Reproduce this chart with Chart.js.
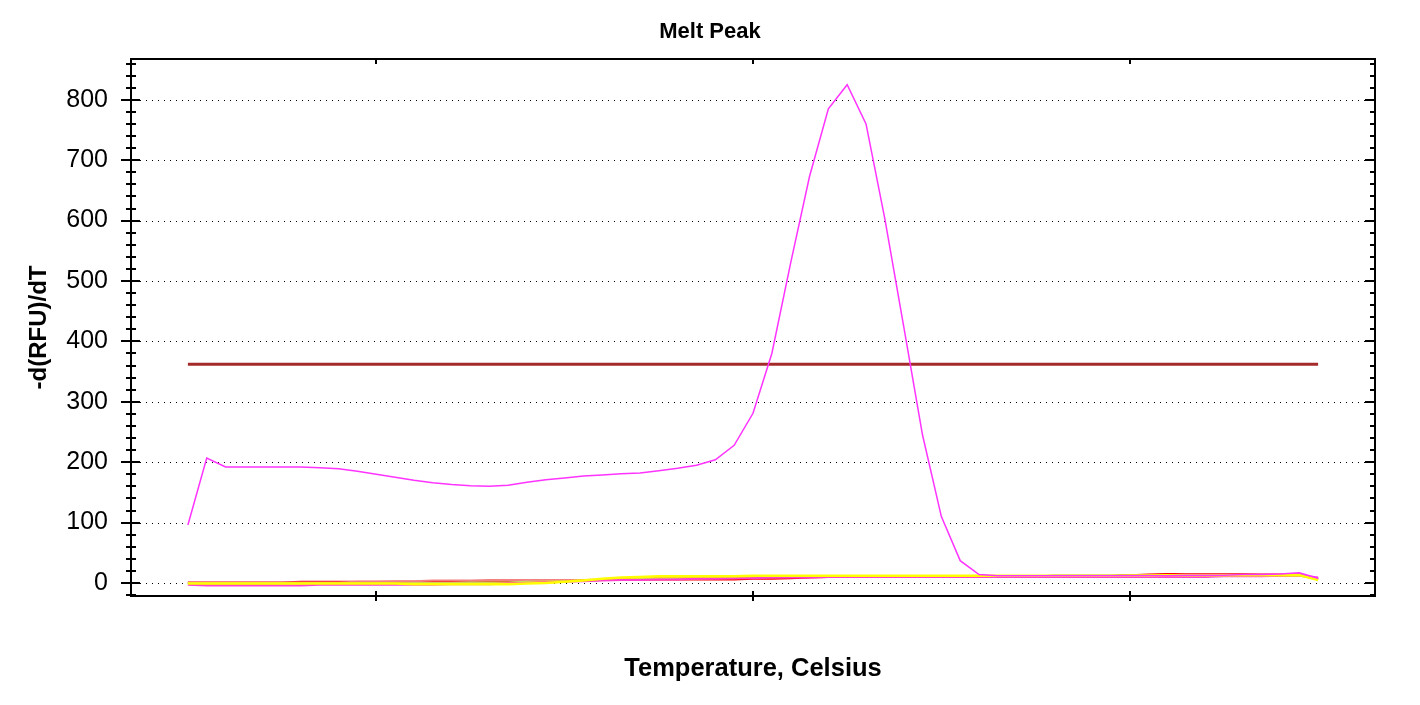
<!DOCTYPE html>
<html><head><meta charset="utf-8">
<script src="https://cdn.jsdelivr.net/npm/chart.js@4.4.1/dist/chart.umd.min.js"></script>
<style>html,body{margin:0;padding:0;background:#fff;}canvas{display:block;}</style>
</head><body>
<canvas id="c" width="1420" height="705"></canvas>
<script>
const temps = [65,65.5,66,66.5,67,67.5,68,68.5,69,69.5,70,70.5,71,71.5,72,72.5,73,73.5,74,74.5,75,75.5,76,76.5,77,77.5,78,78.5,79,79.5,80,80.5,81,81.5,82,82.5,83,83.5,84,84.5,85,85.5,86,86.5,87,87.5,88,88.5,89,89.5,90,90.5,91,91.5,92,92.5,93,93.5,94,94.5,95];
const peakSample = [96,207,192,192,192,192,192,191,189,185,180,175,170,166,163,161,160,162,167,171,174,177,179,181,182,186,190,195,204,228,281,380,530,673,785,825,760,603,425,245,110,37,14,12,12,12,12,12,12,12,12,12,12,13,13,13,14,14,15,17,8];
const redSample = [1,1,1,1,1,1,2,2,2,2,2,2,2,3,3,3,3,3,4,4,4,5,5,6,6,6,6,6,6,6,7,7,8,9,10,10,10,10,10,10,10,10,10,10,10,10,11,11,11,11,13,14,15,15,15,15,15,14,14,14,6];
const yellowSample = [-1,-1,-1,-1,-1,-1,-1,-1,-1,-1,-1,-1,-2,-2,-2,-2,-2,-2,-1,0,2,4,7,9,10,11,11,11,11,11,12,12,12,12,12,12,12,12,12,12,12,12,12,12,12,12,12,12,12,12,12,12,13,13,13,13,13,13,13,13,5];
const salmonSample = [0,0,0,0,0,1,1,1,1,2,2,3,3,4,4,4,5,5,5,5,5,5,5,5,6,6,7,7,8,8,9,9,10,10,10,11,11,11,11,11,11,11,11,11,11,11,12,12,12,12,13,13,13,14,14,14,14,14,13,14,7];
const orangeSample = [-2,-2,-2,-2,-2,-1,-1,-1,-1,-1,-1,-1,-1,-1,-1,-1,-1,0,1,2,3,5,6,8,9,9,10,10,10,10,10,11,11,11,11,11,11,11,11,11,11,11,11,11,11,11,11,11,11,11,12,12,12,12,12,12,12,12,12,13,6];
const lightGreenSample = [-1,-1,-1,-1,-1,-1,-1,-1,-1,-1,-1,-1,0,0,0,1,1,1,2,2,3,4,5,6,7,8,9,10,10,10,10,10,11,11,11,11,11,11,11,11,11,11,11,11,11,11,11,11,11,11,12,12,12,12,12,12,12,12,12,12,7];
const darkGreenSample = [0,0,0,0,0,0,0,0,0,0,0,0,1,1,1,1,1,2,2,2,3,4,5,6,7,8,9,9,10,10,10,10,10,11,11,11,11,11,11,11,11,11,11,11,11,11,12,12,12,12,13,13,14,14,14,14,13,13,13,13,7];
const pinkSample = [-3,-4,-4,-4,-4,-4,-4,-3,-3,-3,-3,-3,-3,-3,-2,-2,-2,-1,0,1,2,3,4,5,5,6,6,7,7,8,8,9,9,9,10,10,10,10,10,10,10,10,10,10,10,10,10,10,10,10,10,10,10,10,10,11,11,11,12,13,9];
const threshold = 362;
const yTicks = [0,100,200,300,400,500,600,700,800];
const yMinorTicks = [-20,0,20,40,60,80,100,120,140,160,180,200,220,240,260,280,300,320,340,360,380,400,420,440,460,480,500,520,540,560,580,600,620,640,660,680,700,720,740,760,780,800,820,840,860];
const xTicks = [70,80,90];

const pts = arr => arr.map((v,i)=>({x:temps[i], y:v}));
const mk = (data,color,w) => ({data:pts(data), borderColor:color, borderWidth:w, pointRadius:0, tension:0, fill:false});
const FONT = 'Liberation Sans, Arial, sans-serif';

const framePlugin = {
  id:'frame',
  beforeDatasetsDraw(chart){
    const {ctx, chartArea:a, scales:{y}} = chart;
    ctx.save();
    ctx.strokeStyle='#000'; ctx.lineWidth=1; ctx.setLineDash([1,5]);
    yTicks.forEach(v=>{
      const py=Math.round(y.getPixelForValue(v))+0.5;
      ctx.beginPath(); ctx.moveTo(a.left+9,py); ctx.lineTo(a.right-9,py); ctx.stroke();
    });
    ctx.restore();
  },
  afterDraw(chart){
    const {ctx, chartArea:a, scales:{x,y}} = chart;
    ctx.save();
    ctx.strokeStyle='#000'; ctx.lineWidth=2; ctx.setLineDash([]);
    ctx.strokeRect(a.left, a.top, a.right-a.left, a.bottom-a.top);
    ctx.beginPath();
    yMinorTicks.forEach(v=>{
      const py=Math.round(y.getPixelForValue(v));
      const major = yTicks.includes(v);
      if(major){ ctx.moveTo(a.left-10,py); ctx.lineTo(a.left+9,py); ctx.moveTo(a.right-10,py); ctx.lineTo(a.right,py); }
      else { ctx.moveTo(a.left-5,py); ctx.lineTo(a.left+5,py); ctx.moveTo(a.right-5,py); ctx.lineTo(a.right,py); }
    });
    xTicks.forEach(v=>{
      const px=Math.round(x.getPixelForValue(v));
      ctx.moveTo(px,a.bottom-5); ctx.lineTo(px,a.bottom+5);
      ctx.moveTo(px,a.top); ctx.lineTo(px,a.top+5);
    });
    ctx.stroke();
    ctx.restore();
  }
};

new Chart(document.getElementById('c'), {
  type:'line',
  data:{datasets:[
    mk(peakSample,'#ff33ff',1.5),
    {data:[{x:temps[0],y:threshold},{x:temps[temps.length-1],y:threshold}], borderColor:'#a52a2a', borderWidth:3, pointRadius:0, fill:false},
    mk(yellowSample,'#ffff00',2.5),
    mk(pinkSample,'#ff40d0',2),
    mk(orangeSample,'#ffb030',2),
    mk(lightGreenSample,'#b0f080',2),
    mk(salmonSample,'#f48080',2),
    mk(redSample,'#ff0000',2),
    mk(darkGreenSample,'#308030',2)
  ]},
  options:{
    responsive:false, animation:false, devicePixelRatio:1,
    layout:{padding:{left:0,right:0,top:0,bottom:0}},
    plugins:{
      legend:{display:false}, tooltip:{enabled:false},
      title:{display:true, text:'Melt Peak', color:'#000', font:{family:FONT, size:22, weight:'bold'}, padding:{top:19,bottom:13.6}}
    },
    scales:{
      x:{type:'linear', min:63.49, max:96.51,
        grid:{display:false}, border:{display:false}, ticks:{display:false},
        title:{display:true, text:'Temperature, Celsius', color:'#000', font:{family:FONT, size:25.5, weight:'bold'}, padding:{top:0,bottom:20.7}},
        afterFit(s){ s.height = 109; }
      },
      y:{type:'linear', min:-21.5, max:867.5,
        grid:{display:false, drawTicks:false}, border:{display:false},
        afterBuildTicks(s){ s.ticks = yTicks.map(v=>({value:v})); },
        ticks:{color:'#000', padding:23, font:{family:FONT, size:25}},
        title:{display:true, text:'-d(RFU)/dT', color:'#000', font:{family:FONT, size:24, weight:'bold'}, padding:{top:25,bottom:0}},
        afterFit(s){ s.width = 131; }
      },
      yRight:{type:'linear', position:'right', min:-21.5, max:867.5,
        grid:{display:false, drawTicks:false}, border:{display:false}, ticks:{display:false},
        afterFit(s){ s.width = 45; }
      }
    }
  },
  plugins:[framePlugin]
});
</script>
</body></html>
